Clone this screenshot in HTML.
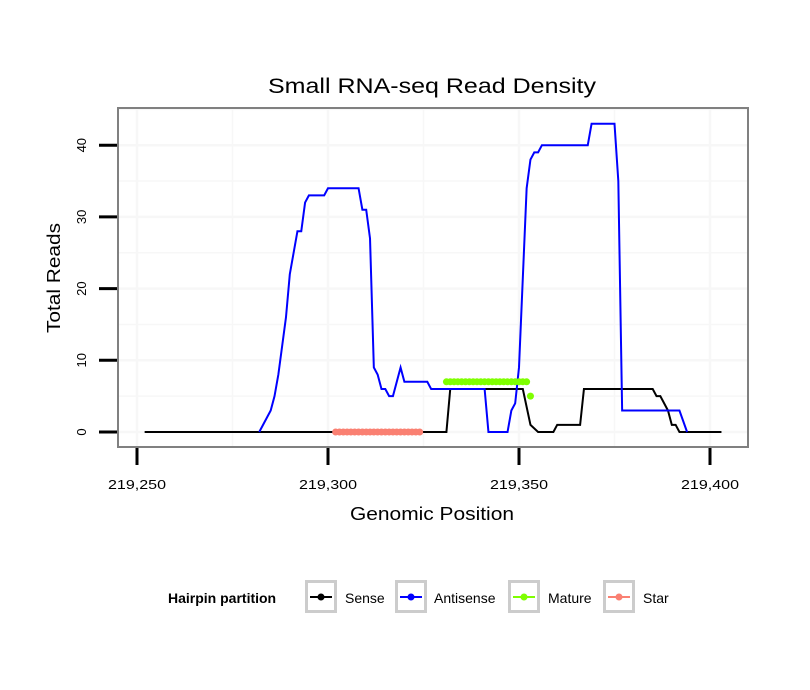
<!DOCTYPE html>
<html><head><meta charset="utf-8"><style>
body{margin:0;background:#fff;}
svg{display:block;font-family:"Liberation Sans",sans-serif;}
</style></head><body>
<svg id="chart" width="810" height="690" viewBox="0 0 810 690">
<text x="432" y="93" font-size="21" text-anchor="middle" textLength="328" lengthAdjust="spacingAndGlyphs">Small RNA-seq Read Density</text>
<g id="grid"></g>
<g id="series"></g>
<rect x="118" y="108" width="630" height="339" fill="none" stroke="#808080" stroke-width="2"/>
<g id="axes"></g>
<text x="432" y="520" font-size="18" text-anchor="middle" textLength="164" lengthAdjust="spacingAndGlyphs">Genomic Position</text>
<text transform="translate(60,278) rotate(-90)" font-size="18" text-anchor="middle" textLength="110" lengthAdjust="spacingAndGlyphs">Total Reads</text>
<g>
<text x="168" y="603" font-size="14" font-weight="bold">Hairpin partition</text>
<g id="legend"></g>
</g>
</svg>
<script>
const xTicks=[219250,219300,219350,219400];
const xTickLabels=["219,250","219,300","219,350","219,400"];
const yTicks=[0,10,20,30,40];
const senseX=[219252,219331,219332,219351,219353,219355,219359,219360,219366,219367,219385,219386,219387,219389,219390,219391,219392,219403];
const senseY=[0,0,6,6,1,0,0,1,1,6,6,5,5,3,1,1,0,0];
const antiX=[219282,219285,219286,219287,219289,219290,219292,219293,219294,219295,219299,219300,219308,219309,219310,219311,219312,219313,219314,219315,219316,219317,219319,219320,219326,219327,219341,219342,219347,219348,219349,219350,219352,219353,219354,219355,219356,219368,219369,219375,219376,219377,219392,219393,219394];
const antiY=[0,3,5,8,16,22,28,28,32,33,33,34,34,31,31,27,9,8,6,6,5,5,9,7,7,6,6,0,0,3,4,9,34,38,39,39,40,40,43,43,35,3,3,1.5,0];
const matureX=[219331,219332,219333,219334,219335,219336,219337,219338,219339,219340,219341,219342,219343,219344,219345,219346,219347,219348,219349,219350,219351,219352,219353];
const matureY=[7,7,7,7,7,7,7,7,7,7,7,7,7,7,7,7,7,7,7,7,7,7,5];
const starX=[219302,219303,219304,219305,219306,219307,219308,219309,219310,219311,219312,219313,219314,219315,219316,219317,219318,219319,219320,219321,219322,219323,219324];
const starY=[0,0,0,0,0,0,0,0,0,0,0,0,0,0,0,0,0,0,0,0,0,0,0];
const seriesNames=["Sense","Antisense","Mature","Star"];
const seriesColors=["#000000","#0000ff","#7fff00","#fa8072"];

const NS="http://www.w3.org/2000/svg";
const sx=v=>137+(v-219250)*(573/150);
const sy=v=>432-v*7.17;
function mk(tag,attrs,parent){const e=document.createElementNS(NS,tag);for(const k in attrs)e.setAttribute(k,attrs[k]);parent.appendChild(e);return e;}
const grid=document.getElementById('grid'),series=document.getElementById('series'),axes=document.getElementById('axes'),legend=document.getElementById('legend');
mk('rect',{x:118,y:108,width:630,height:339,fill:'#fff'},grid);
for(let v=0;v<=45;v+=5){const l=mk('line',{x1:118,x2:748,y1:sy(v),y2:sy(v),stroke:'#f7f7f7','stroke-width':v%10?1.5:2.5},grid);

}
for(let v=219250;v<=219400;v+=25){const l=mk('line',{y1:108,y2:447,x1:sx(v),x2:sx(v),stroke:'#f7f7f7','stroke-width':v%50?1.5:2.5},grid);

}
function line(xs,ys,c,name){const p=mk('polyline',{points:xs.map((x,i)=>sx(x)+','+sy(ys[i])).join(' '),fill:'none',stroke:c,'stroke-width':2},series);

}
function pts(xs,ys,c,name){xs.forEach((x,i)=>{const d=mk('circle',{cx:sx(x),cy:sy(ys[i]),r:3.5,fill:c},series);

});}
line(senseX,senseY,seriesColors[0],'sense-line');
line(antiX,antiY,seriesColors[1],'antisense-line');
line(matureX.slice(0,-1),matureY.slice(0,-1),seriesColors[2],'mature-line');
pts(matureX,matureY,seriesColors[2],'mature-point');
line(starX,starY,seriesColors[3],'star-line');
pts(starX,starY,seriesColors[3],'star-point');
yTicks.forEach(v=>{const t=mk('line',{x1:99,x2:117,y1:sy(v),y2:sy(v),stroke:'#000','stroke-width':3},axes);


const tx=mk('text',{transform:`translate(86,${sy(v)}) rotate(-90)`,'font-size':13,'text-anchor':'middle'},axes);tx.textContent=v;

});
xTicks.forEach((v,i)=>{const t=mk('line',{x1:sx(v),x2:sx(v),y1:448,y2:465,stroke:'#000','stroke-width':3},axes);


const tx=mk('text',{x:sx(v),y:489,'font-size':13,'text-anchor':'middle',textLength:58,lengthAdjust:'spacingAndGlyphs'},axes);tx.textContent=xTickLabels[i];

});
const boxX=[305,395,508,603],textX=[345,434,548,643];
seriesNames.forEach((n,i)=>{const g=mk('g',{},legend);


mk('rect',{x:boxX[i]+1.5,y:581.5,width:29,height:30,fill:'#fff',stroke:'#cccccc','stroke-width':3},g);
mk('line',{x1:boxX[i]+5,x2:boxX[i]+27,y1:597,y2:597,stroke:seriesColors[i],'stroke-width':2},g);
mk('circle',{cx:boxX[i]+16,cy:597,r:3.5,fill:seriesColors[i]},g);
const t=mk('text',{x:textX[i],y:603,'font-size':14},g);t.textContent=n;});
</script>
</body></html>
